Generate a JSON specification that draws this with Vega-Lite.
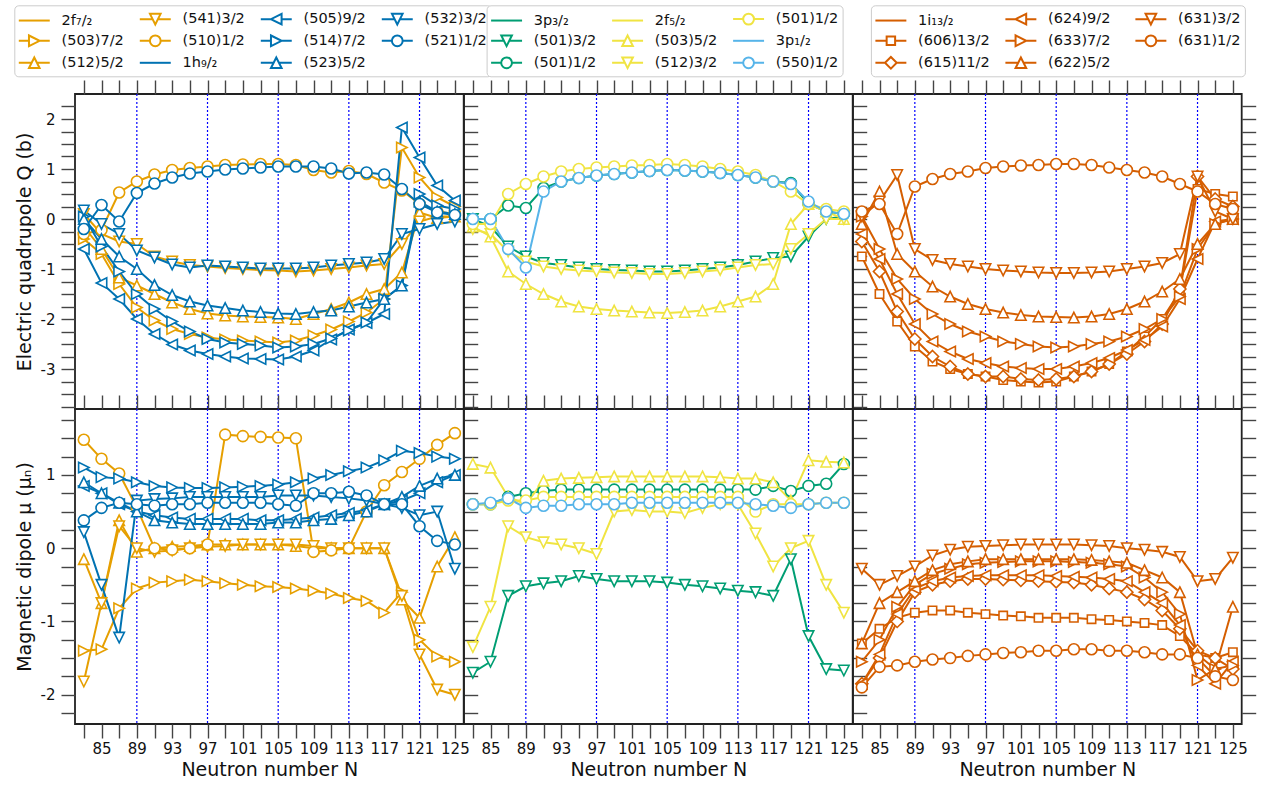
{
"$schema":"https://vega.github.io/schema/vega-lite/v6.json",
"background":"white",
"padding":{"left":12,"top":3,"right":5,"bottom":5},
"autosize":{"type":"pad"},
"config":{
 "view":{"stroke":"#222","strokeWidth":1.8},
 "axis":{"domain":false,"grid":false,"tickColor":"#444","tickWidth":1.4,"tickSize":14,"labelFont":"DejaVu Sans","labelFontSize":15,"labelColor":"#111","labelPadding":3,"titleFont":"DejaVu Sans","titleFontSize":19,"titleFontWeight":"normal","titleColor":"#111","labelFlush":false,"labelOverlap":false},
 "legend":{"labelFont":"DejaVu Sans","labelFontSize":14.5,"labelColor":"#111","symbolSize":324,"symbolStrokeWidth":2,"labelOffset":23.7,"columnPadding":11,"rowPadding":2,"padding":3.5,"strokeColor":"#cccccc","fillColor":"white","cornerRadius":4,"gridAlign":"all","labelLimit":300,"orient":"none"}
},
"datasets":{
"A":[
{"g":"2f7/2","s":"(503)7/2","N":83,"Q":-0.4,"mu":-1.4},{"g":"2f7/2","s":"(503)7/2","N":85,"Q":-0.7,"mu":-1.38},{"g":"2f7/2","s":"(503)7/2","N":87,"Q":-1.3,"mu":-0.82},{"g":"2f7/2","s":"(503)7/2","N":89,"Q":-1.77,"mu":-0.55},{"g":"2f7/2","s":"(503)7/2","N":91,"Q":-2.03,"mu":-0.47},{"g":"2f7/2","s":"(503)7/2","N":93,"Q":-2.2,"mu":-0.45},{"g":"2f7/2","s":"(503)7/2","N":95,"Q":-2.3,"mu":-0.43},{"g":"2f7/2","s":"(503)7/2","N":97,"Q":-2.37,"mu":-0.45},{"g":"2f7/2","s":"(503)7/2","N":99,"Q":-2.41,"mu":-0.48},{"g":"2f7/2","s":"(503)7/2","N":101,"Q":-2.43,"mu":-0.5},{"g":"2f7/2","s":"(503)7/2","N":103,"Q":-2.45,"mu":-0.52},{"g":"2f7/2","s":"(503)7/2","N":105,"Q":-2.47,"mu":-0.53},{"g":"2f7/2","s":"(503)7/2","N":107,"Q":-2.43,"mu":-0.55},{"g":"2f7/2","s":"(503)7/2","N":109,"Q":-2.33,"mu":-0.58},{"g":"2f7/2","s":"(503)7/2","N":111,"Q":-2.21,"mu":-0.62},{"g":"2f7/2","s":"(503)7/2","N":113,"Q":-2.05,"mu":-0.68},{"g":"2f7/2","s":"(503)7/2","N":115,"Q":-1.87,"mu":-0.72},{"g":"2f7/2","s":"(503)7/2","N":117,"Q":-1.6,"mu":-0.88},{"g":"2f7/2","s":"(503)7/2","N":119,"Q":1.43,"mu":-0.6},{"g":"2f7/2","s":"(503)7/2","N":121,"Q":0.83,"mu":-1.25},{"g":"2f7/2","s":"(503)7/2","N":123,"Q":0.43,"mu":-1.48},{"g":"2f7/2","s":"(503)7/2","N":125,"Q":0.25,"mu":-1.55},
{"g":"2f7/2","s":"(512)5/2","N":83,"Q":-0.15,"mu":-0.15},{"g":"2f7/2","s":"(512)5/2","N":85,"Q":-0.6,"mu":-0.75},{"g":"2f7/2","s":"(512)5/2","N":87,"Q":-1.17,"mu":0.38},{"g":"2f7/2","s":"(512)5/2","N":89,"Q":-1.33,"mu":-0.05},{"g":"2f7/2","s":"(512)5/2","N":91,"Q":-1.5,"mu":0.0},{"g":"2f7/2","s":"(512)5/2","N":93,"Q":-1.67,"mu":0.02},{"g":"2f7/2","s":"(512)5/2","N":95,"Q":-1.8,"mu":0.03},{"g":"2f7/2","s":"(512)5/2","N":97,"Q":-1.89,"mu":0.05},{"g":"2f7/2","s":"(512)5/2","N":99,"Q":-1.93,"mu":0.05},{"g":"2f7/2","s":"(512)5/2","N":101,"Q":-1.95,"mu":0.05},{"g":"2f7/2","s":"(512)5/2","N":103,"Q":-1.96,"mu":0.05},{"g":"2f7/2","s":"(512)5/2","N":105,"Q":-1.97,"mu":0.05},{"g":"2f7/2","s":"(512)5/2","N":107,"Q":-2.0,"mu":0.03},{"g":"2f7/2","s":"(512)5/2","N":109,"Q":-1.9,"mu":0.0},{"g":"2f7/2","s":"(512)5/2","N":111,"Q":-1.8,"mu":0.0},{"g":"2f7/2","s":"(512)5/2","N":113,"Q":-1.67,"mu":0.0},{"g":"2f7/2","s":"(512)5/2","N":115,"Q":-1.5,"mu":0.0},{"g":"2f7/2","s":"(512)5/2","N":117,"Q":-1.4,"mu":0.0},{"g":"2f7/2","s":"(512)5/2","N":119,"Q":-1.07,"mu":-0.7},{"g":"2f7/2","s":"(512)5/2","N":121,"Q":0.13,"mu":-0.95},{"g":"2f7/2","s":"(512)5/2","N":123,"Q":0.02,"mu":-0.25},{"g":"2f7/2","s":"(512)5/2","N":125,"Q":0.05,"mu":0.15},
{"g":"2f7/2","s":"(541)3/2","N":83,"Q":0.1,"mu":-1.82},{"g":"2f7/2","s":"(541)3/2","N":85,"Q":-0.3,"mu":-0.75},{"g":"2f7/2","s":"(541)3/2","N":87,"Q":-0.45,"mu":0.3},{"g":"2f7/2","s":"(541)3/2","N":89,"Q":-0.5,"mu":0.0},{"g":"2f7/2","s":"(541)3/2","N":91,"Q":-0.75,"mu":-0.05},{"g":"2f7/2","s":"(541)3/2","N":93,"Q":-0.85,"mu":-0.03},{"g":"2f7/2","s":"(541)3/2","N":95,"Q":-0.92,"mu":0.0},{"g":"2f7/2","s":"(541)3/2","N":97,"Q":-0.95,"mu":0.02},{"g":"2f7/2","s":"(541)3/2","N":99,"Q":-0.98,"mu":0.03},{"g":"2f7/2","s":"(541)3/2","N":101,"Q":-1.0,"mu":0.05},{"g":"2f7/2","s":"(541)3/2","N":103,"Q":-1.02,"mu":0.05},{"g":"2f7/2","s":"(541)3/2","N":105,"Q":-1.03,"mu":0.05},{"g":"2f7/2","s":"(541)3/2","N":107,"Q":-1.05,"mu":0.05},{"g":"2f7/2","s":"(541)3/2","N":109,"Q":-1.03,"mu":0.03},{"g":"2f7/2","s":"(541)3/2","N":111,"Q":-1.0,"mu":0.0},{"g":"2f7/2","s":"(541)3/2","N":113,"Q":-0.97,"mu":0.0},{"g":"2f7/2","s":"(541)3/2","N":115,"Q":-0.93,"mu":0.0},{"g":"2f7/2","s":"(541)3/2","N":117,"Q":-0.9,"mu":0.0},{"g":"2f7/2","s":"(541)3/2","N":119,"Q":-0.5,"mu":-0.65},{"g":"2f7/2","s":"(541)3/2","N":121,"Q":-0.05,"mu":-1.45},{"g":"2f7/2","s":"(541)3/2","N":123,"Q":0.05,"mu":-1.93},{"g":"2f7/2","s":"(541)3/2","N":125,"Q":0.05,"mu":-2.0},
{"g":"2f7/2","s":"(510)1/2","N":83,"Q":-0.3,"mu":1.48},{"g":"2f7/2","s":"(510)1/2","N":85,"Q":-0.22,"mu":1.22},{"g":"2f7/2","s":"(510)1/2","N":87,"Q":0.53,"mu":1.02},{"g":"2f7/2","s":"(510)1/2","N":89,"Q":0.75,"mu":0.55},{"g":"2f7/2","s":"(510)1/2","N":91,"Q":0.89,"mu":0.0},{"g":"2f7/2","s":"(510)1/2","N":93,"Q":0.98,"mu":-0.02},{"g":"2f7/2","s":"(510)1/2","N":95,"Q":1.02,"mu":0.0},{"g":"2f7/2","s":"(510)1/2","N":97,"Q":1.05,"mu":0.05},{"g":"2f7/2","s":"(510)1/2","N":99,"Q":1.08,"mu":1.55},{"g":"2f7/2","s":"(510)1/2","N":101,"Q":1.09,"mu":1.53},{"g":"2f7/2","s":"(510)1/2","N":103,"Q":1.1,"mu":1.52},{"g":"2f7/2","s":"(510)1/2","N":105,"Q":1.1,"mu":1.51},{"g":"2f7/2","s":"(510)1/2","N":107,"Q":1.08,"mu":1.5},{"g":"2f7/2","s":"(510)1/2","N":109,"Q":0.98,"mu":-0.05},{"g":"2f7/2","s":"(510)1/2","N":111,"Q":0.93,"mu":-0.03},{"g":"2f7/2","s":"(510)1/2","N":113,"Q":0.96,"mu":0.0},{"g":"2f7/2","s":"(510)1/2","N":115,"Q":0.9,"mu":0.5},{"g":"2f7/2","s":"(510)1/2","N":117,"Q":0.73,"mu":0.86},{"g":"2f7/2","s":"(510)1/2","N":119,"Q":0.57,"mu":1.04},{"g":"2f7/2","s":"(510)1/2","N":121,"Q":0.3,"mu":1.22},{"g":"2f7/2","s":"(510)1/2","N":123,"Q":0.15,"mu":1.41},{"g":"2f7/2","s":"(510)1/2","N":125,"Q":0.1,"mu":1.57},
{"g":"1h9/2","s":"(505)9/2","N":83,"Q":-0.6,"mu":0.85},{"g":"1h9/2","s":"(505)9/2","N":85,"Q":-1.28,"mu":0.75},{"g":"1h9/2","s":"(505)9/2","N":87,"Q":-1.6,"mu":0.6},{"g":"1h9/2","s":"(505)9/2","N":89,"Q":-2.0,"mu":0.5},{"g":"1h9/2","s":"(505)9/2","N":91,"Q":-2.3,"mu":0.45},{"g":"1h9/2","s":"(505)9/2","N":93,"Q":-2.51,"mu":0.42},{"g":"1h9/2","s":"(505)9/2","N":95,"Q":-2.63,"mu":0.4},{"g":"1h9/2","s":"(505)9/2","N":97,"Q":-2.7,"mu":0.4},{"g":"1h9/2","s":"(505)9/2","N":99,"Q":-2.75,"mu":0.4},{"g":"1h9/2","s":"(505)9/2","N":101,"Q":-2.79,"mu":0.4},{"g":"1h9/2","s":"(505)9/2","N":103,"Q":-2.8,"mu":0.38},{"g":"1h9/2","s":"(505)9/2","N":105,"Q":-2.81,"mu":0.38},{"g":"1h9/2","s":"(505)9/2","N":107,"Q":-2.75,"mu":0.4},{"g":"1h9/2","s":"(505)9/2","N":109,"Q":-2.63,"mu":0.42},{"g":"1h9/2","s":"(505)9/2","N":111,"Q":-2.41,"mu":0.45},{"g":"1h9/2","s":"(505)9/2","N":113,"Q":-2.21,"mu":0.48},{"g":"1h9/2","s":"(505)9/2","N":115,"Q":-2.08,"mu":0.52},{"g":"1h9/2","s":"(505)9/2","N":117,"Q":-1.9,"mu":0.6},{"g":"1h9/2","s":"(505)9/2","N":119,"Q":1.83,"mu":0.65},{"g":"1h9/2","s":"(505)9/2","N":121,"Q":1.23,"mu":0.75},{"g":"1h9/2","s":"(505)9/2","N":123,"Q":0.67,"mu":0.9},{"g":"1h9/2","s":"(505)9/2","N":125,"Q":0.37,"mu":1.0},
{"g":"1h9/2","s":"(514)7/2","N":83,"Q":0.05,"mu":1.1},{"g":"1h9/2","s":"(514)7/2","N":85,"Q":-0.55,"mu":0.97},{"g":"1h9/2","s":"(514)7/2","N":87,"Q":-1.05,"mu":0.95},{"g":"1h9/2","s":"(514)7/2","N":89,"Q":-1.5,"mu":0.9},{"g":"1h9/2","s":"(514)7/2","N":91,"Q":-1.8,"mu":0.85},{"g":"1h9/2","s":"(514)7/2","N":93,"Q":-2.05,"mu":0.83},{"g":"1h9/2","s":"(514)7/2","N":95,"Q":-2.25,"mu":0.82},{"g":"1h9/2","s":"(514)7/2","N":97,"Q":-2.4,"mu":0.82},{"g":"1h9/2","s":"(514)7/2","N":99,"Q":-2.47,"mu":0.83},{"g":"1h9/2","s":"(514)7/2","N":101,"Q":-2.5,"mu":0.84},{"g":"1h9/2","s":"(514)7/2","N":103,"Q":-2.53,"mu":0.85},{"g":"1h9/2","s":"(514)7/2","N":105,"Q":-2.57,"mu":0.87},{"g":"1h9/2","s":"(514)7/2","N":107,"Q":-2.55,"mu":0.9},{"g":"1h9/2","s":"(514)7/2","N":109,"Q":-2.5,"mu":0.95},{"g":"1h9/2","s":"(514)7/2","N":111,"Q":-2.39,"mu":1.0},{"g":"1h9/2","s":"(514)7/2","N":113,"Q":-2.23,"mu":1.05},{"g":"1h9/2","s":"(514)7/2","N":115,"Q":-2.07,"mu":1.1},{"g":"1h9/2","s":"(514)7/2","N":117,"Q":-1.6,"mu":1.2},{"g":"1h9/2","s":"(514)7/2","N":119,"Q":-1.33,"mu":1.33},{"g":"1h9/2","s":"(514)7/2","N":121,"Q":0.5,"mu":1.3},{"g":"1h9/2","s":"(514)7/2","N":123,"Q":0.27,"mu":1.25},{"g":"1h9/2","s":"(514)7/2","N":125,"Q":0.2,"mu":1.22},
{"g":"1h9/2","s":"(523)5/2","N":83,"Q":0.0,"mu":0.9},{"g":"1h9/2","s":"(523)5/2","N":85,"Q":-0.4,"mu":0.75},{"g":"1h9/2","s":"(523)5/2","N":87,"Q":-0.75,"mu":0.62},{"g":"1h9/2","s":"(523)5/2","N":89,"Q":-1.0,"mu":0.5},{"g":"1h9/2","s":"(523)5/2","N":91,"Q":-1.32,"mu":0.38},{"g":"1h9/2","s":"(523)5/2","N":93,"Q":-1.52,"mu":0.35},{"g":"1h9/2","s":"(523)5/2","N":95,"Q":-1.65,"mu":0.33},{"g":"1h9/2","s":"(523)5/2","N":97,"Q":-1.73,"mu":0.33},{"g":"1h9/2","s":"(523)5/2","N":99,"Q":-1.78,"mu":0.33},{"g":"1h9/2","s":"(523)5/2","N":101,"Q":-1.83,"mu":0.33},{"g":"1h9/2","s":"(523)5/2","N":103,"Q":-1.86,"mu":0.33},{"g":"1h9/2","s":"(523)5/2","N":105,"Q":-1.89,"mu":0.35},{"g":"1h9/2","s":"(523)5/2","N":107,"Q":-1.9,"mu":0.35},{"g":"1h9/2","s":"(523)5/2","N":109,"Q":-1.86,"mu":0.38},{"g":"1h9/2","s":"(523)5/2","N":111,"Q":-1.83,"mu":0.4},{"g":"1h9/2","s":"(523)5/2","N":113,"Q":-1.75,"mu":0.45},{"g":"1h9/2","s":"(523)5/2","N":115,"Q":-1.67,"mu":0.5},{"g":"1h9/2","s":"(523)5/2","N":117,"Q":-1.6,"mu":0.6},{"g":"1h9/2","s":"(523)5/2","N":119,"Q":-1.33,"mu":0.7},{"g":"1h9/2","s":"(523)5/2","N":121,"Q":0.35,"mu":0.85},{"g":"1h9/2","s":"(523)5/2","N":123,"Q":0.15,"mu":0.95},{"g":"1h9/2","s":"(523)5/2","N":125,"Q":0.1,"mu":1.0},
{"g":"1h9/2","s":"(532)3/2","N":83,"Q":0.17,"mu":0.22},{"g":"1h9/2","s":"(532)3/2","N":85,"Q":-0.1,"mu":-0.5},{"g":"1h9/2","s":"(532)3/2","N":87,"Q":-0.3,"mu":-1.22},{"g":"1h9/2","s":"(532)3/2","N":89,"Q":-0.63,"mu":0.65},{"g":"1h9/2","s":"(532)3/2","N":91,"Q":-0.77,"mu":0.67},{"g":"1h9/2","s":"(532)3/2","N":93,"Q":-0.91,"mu":0.68},{"g":"1h9/2","s":"(532)3/2","N":95,"Q":-0.97,"mu":0.7},{"g":"1h9/2","s":"(532)3/2","N":97,"Q":-0.93,"mu":0.7},{"g":"1h9/2","s":"(532)3/2","N":99,"Q":-0.95,"mu":0.7},{"g":"1h9/2","s":"(532)3/2","N":101,"Q":-0.97,"mu":0.7},{"g":"1h9/2","s":"(532)3/2","N":103,"Q":-0.99,"mu":0.7},{"g":"1h9/2","s":"(532)3/2","N":105,"Q":-0.99,"mu":0.72},{"g":"1h9/2","s":"(532)3/2","N":107,"Q":-0.99,"mu":0.72},{"g":"1h9/2","s":"(532)3/2","N":109,"Q":-0.97,"mu":0.72},{"g":"1h9/2","s":"(532)3/2","N":111,"Q":-0.93,"mu":0.7},{"g":"1h9/2","s":"(532)3/2","N":113,"Q":-0.9,"mu":0.68},{"g":"1h9/2","s":"(532)3/2","N":115,"Q":-0.87,"mu":0.65},{"g":"1h9/2","s":"(532)3/2","N":117,"Q":-0.8,"mu":0.6},{"g":"1h9/2","s":"(532)3/2","N":119,"Q":-0.3,"mu":0.55},{"g":"1h9/2","s":"(532)3/2","N":121,"Q":-0.2,"mu":0.45},{"g":"1h9/2","s":"(532)3/2","N":123,"Q":-0.1,"mu":0.5},{"g":"1h9/2","s":"(532)3/2","N":125,"Q":-0.05,"mu":-0.28},
{"g":"1h9/2","s":"(521)1/2","N":83,"Q":-0.2,"mu":0.38},{"g":"1h9/2","s":"(521)1/2","N":85,"Q":0.28,"mu":0.55},{"g":"1h9/2","s":"(521)1/2","N":87,"Q":-0.05,"mu":0.62},{"g":"1h9/2","s":"(521)1/2","N":89,"Q":0.52,"mu":0.6},{"g":"1h9/2","s":"(521)1/2","N":91,"Q":0.71,"mu":0.58},{"g":"1h9/2","s":"(521)1/2","N":93,"Q":0.83,"mu":0.6},{"g":"1h9/2","s":"(521)1/2","N":95,"Q":0.91,"mu":0.6},{"g":"1h9/2","s":"(521)1/2","N":97,"Q":0.95,"mu":0.62},{"g":"1h9/2","s":"(521)1/2","N":99,"Q":0.99,"mu":0.62},{"g":"1h9/2","s":"(521)1/2","N":101,"Q":1.01,"mu":0.62},{"g":"1h9/2","s":"(521)1/2","N":103,"Q":1.03,"mu":0.62},{"g":"1h9/2","s":"(521)1/2","N":105,"Q":1.05,"mu":0.6},{"g":"1h9/2","s":"(521)1/2","N":107,"Q":1.05,"mu":0.58},{"g":"1h9/2","s":"(521)1/2","N":109,"Q":1.05,"mu":0.75},{"g":"1h9/2","s":"(521)1/2","N":111,"Q":1.01,"mu":0.75},{"g":"1h9/2","s":"(521)1/2","N":113,"Q":0.91,"mu":0.77},{"g":"1h9/2","s":"(521)1/2","N":115,"Q":0.93,"mu":0.72},{"g":"1h9/2","s":"(521)1/2","N":117,"Q":0.89,"mu":0.6},{"g":"1h9/2","s":"(521)1/2","N":119,"Q":0.6,"mu":0.6},{"g":"1h9/2","s":"(521)1/2","N":121,"Q":0.3,"mu":0.3},{"g":"1h9/2","s":"(521)1/2","N":123,"Q":0.13,"mu":0.1},{"g":"1h9/2","s":"(521)1/2","N":125,"Q":0.08,"mu":0.05}
],
"B":[
{"g":"3p3/2","s":"(501)3/2","N":83,"Q":0.0,"mu":-1.7},{"g":"3p3/2","s":"(501)3/2","N":85,"Q":-0.15,"mu":-1.55},{"g":"3p3/2","s":"(501)3/2","N":87,"Q":-0.55,"mu":-0.65},{"g":"3p3/2","s":"(501)3/2","N":89,"Q":-0.75,"mu":-0.52},{"g":"3p3/2","s":"(501)3/2","N":91,"Q":-0.88,"mu":-0.48},{"g":"3p3/2","s":"(501)3/2","N":93,"Q":-0.92,"mu":-0.45},{"g":"3p3/2","s":"(501)3/2","N":95,"Q":-0.97,"mu":-0.38},{"g":"3p3/2","s":"(501)3/2","N":97,"Q":-1.0,"mu":-0.42},{"g":"3p3/2","s":"(501)3/2","N":99,"Q":-1.02,"mu":-0.45},{"g":"3p3/2","s":"(501)3/2","N":101,"Q":-1.03,"mu":-0.45},{"g":"3p3/2","s":"(501)3/2","N":103,"Q":-1.05,"mu":-0.45},{"g":"3p3/2","s":"(501)3/2","N":105,"Q":-1.05,"mu":-0.47},{"g":"3p3/2","s":"(501)3/2","N":107,"Q":-1.03,"mu":-0.5},{"g":"3p3/2","s":"(501)3/2","N":109,"Q":-1.0,"mu":-0.52},{"g":"3p3/2","s":"(501)3/2","N":111,"Q":-0.97,"mu":-0.55},{"g":"3p3/2","s":"(501)3/2","N":113,"Q":-0.92,"mu":-0.58},{"g":"3p3/2","s":"(501)3/2","N":115,"Q":-0.85,"mu":-0.6},{"g":"3p3/2","s":"(501)3/2","N":117,"Q":-0.78,"mu":-0.65},{"g":"3p3/2","s":"(501)3/2","N":119,"Q":-0.75,"mu":-0.15},{"g":"3p3/2","s":"(501)3/2","N":121,"Q":-0.35,"mu":-1.2},{"g":"3p3/2","s":"(501)3/2","N":123,"Q":0.0,"mu":-1.65},{"g":"3p3/2","s":"(501)3/2","N":125,"Q":0.05,"mu":-1.67},
{"g":"3p3/2","s":"(501)1/2","N":83,"Q":0.0,"mu":0.6},{"g":"3p3/2","s":"(501)1/2","N":85,"Q":0.0,"mu":0.6},{"g":"3p3/2","s":"(501)1/2","N":87,"Q":0.27,"mu":0.7},{"g":"3p3/2","s":"(501)1/2","N":89,"Q":0.22,"mu":0.75},{"g":"3p3/2","s":"(501)1/2","N":91,"Q":0.62,"mu":0.78},{"g":"3p3/2","s":"(501)1/2","N":93,"Q":0.75,"mu":0.8},{"g":"3p3/2","s":"(501)1/2","N":95,"Q":0.82,"mu":0.8},{"g":"3p3/2","s":"(501)1/2","N":97,"Q":0.87,"mu":0.8},{"g":"3p3/2","s":"(501)1/2","N":99,"Q":0.9,"mu":0.8},{"g":"3p3/2","s":"(501)1/2","N":101,"Q":0.93,"mu":0.8},{"g":"3p3/2","s":"(501)1/2","N":103,"Q":0.96,"mu":0.8},{"g":"3p3/2","s":"(501)1/2","N":105,"Q":0.98,"mu":0.8},{"g":"3p3/2","s":"(501)1/2","N":107,"Q":0.97,"mu":0.8},{"g":"3p3/2","s":"(501)1/2","N":109,"Q":0.95,"mu":0.8},{"g":"3p3/2","s":"(501)1/2","N":111,"Q":0.92,"mu":0.8},{"g":"3p3/2","s":"(501)1/2","N":113,"Q":0.88,"mu":0.8},{"g":"3p3/2","s":"(501)1/2","N":115,"Q":0.83,"mu":0.8},{"g":"3p3/2","s":"(501)1/2","N":117,"Q":0.75,"mu":0.85},{"g":"3p3/2","s":"(501)1/2","N":119,"Q":0.72,"mu":0.78},{"g":"3p3/2","s":"(501)1/2","N":121,"Q":0.3,"mu":0.85},{"g":"3p3/2","s":"(501)1/2","N":123,"Q":0.15,"mu":0.88},{"g":"3p3/2","s":"(501)1/2","N":125,"Q":0.1,"mu":1.15},
{"g":"2f5/2","s":"(503)5/2","N":83,"Q":-0.15,"mu":1.15},{"g":"2f5/2","s":"(503)5/2","N":85,"Q":-0.35,"mu":1.1},{"g":"2f5/2","s":"(503)5/2","N":87,"Q":-1.05,"mu":0.7},{"g":"2f5/2","s":"(503)5/2","N":89,"Q":-1.3,"mu":0.6},{"g":"2f5/2","s":"(503)5/2","N":91,"Q":-1.5,"mu":0.92},{"g":"2f5/2","s":"(503)5/2","N":93,"Q":-1.65,"mu":0.95},{"g":"2f5/2","s":"(503)5/2","N":95,"Q":-1.75,"mu":0.96},{"g":"2f5/2","s":"(503)5/2","N":97,"Q":-1.8,"mu":0.97},{"g":"2f5/2","s":"(503)5/2","N":99,"Q":-1.83,"mu":0.98},{"g":"2f5/2","s":"(503)5/2","N":101,"Q":-1.85,"mu":0.98},{"g":"2f5/2","s":"(503)5/2","N":103,"Q":-1.87,"mu":0.98},{"g":"2f5/2","s":"(503)5/2","N":105,"Q":-1.88,"mu":0.98},{"g":"2f5/2","s":"(503)5/2","N":107,"Q":-1.86,"mu":0.98},{"g":"2f5/2","s":"(503)5/2","N":109,"Q":-1.83,"mu":0.98},{"g":"2f5/2","s":"(503)5/2","N":111,"Q":-1.75,"mu":0.97},{"g":"2f5/2","s":"(503)5/2","N":113,"Q":-1.65,"mu":0.95},{"g":"2f5/2","s":"(503)5/2","N":115,"Q":-1.55,"mu":0.95},{"g":"2f5/2","s":"(503)5/2","N":117,"Q":-1.3,"mu":0.9},{"g":"2f5/2","s":"(503)5/2","N":119,"Q":-0.1,"mu":0.65},{"g":"2f5/2","s":"(503)5/2","N":121,"Q":0.3,"mu":1.2},{"g":"2f5/2","s":"(503)5/2","N":123,"Q":0.15,"mu":1.18},{"g":"2f5/2","s":"(503)5/2","N":125,"Q":0.0,"mu":1.17},
{"g":"2f5/2","s":"(512)3/2","N":83,"Q":-0.2,"mu":-1.35},{"g":"2f5/2","s":"(512)3/2","N":85,"Q":-0.3,"mu":-0.8},{"g":"2f5/2","s":"(512)3/2","N":87,"Q":-0.65,"mu":0.3},{"g":"2f5/2","s":"(512)3/2","N":89,"Q":-0.85,"mu":0.15},{"g":"2f5/2","s":"(512)3/2","N":91,"Q":-0.95,"mu":0.08},{"g":"2f5/2","s":"(512)3/2","N":93,"Q":-1.0,"mu":0.05},{"g":"2f5/2","s":"(512)3/2","N":95,"Q":-1.03,"mu":0.0},{"g":"2f5/2","s":"(512)3/2","N":97,"Q":-1.05,"mu":-0.08},{"g":"2f5/2","s":"(512)3/2","N":99,"Q":-1.07,"mu":0.5},{"g":"2f5/2","s":"(512)3/2","N":101,"Q":-1.08,"mu":0.52},{"g":"2f5/2","s":"(512)3/2","N":103,"Q":-1.1,"mu":0.5},{"g":"2f5/2","s":"(512)3/2","N":105,"Q":-1.1,"mu":0.5},{"g":"2f5/2","s":"(512)3/2","N":107,"Q":-1.08,"mu":0.48},{"g":"2f5/2","s":"(512)3/2","N":109,"Q":-1.05,"mu":0.55},{"g":"2f5/2","s":"(512)3/2","N":111,"Q":-1.02,"mu":0.6},{"g":"2f5/2","s":"(512)3/2","N":113,"Q":-0.97,"mu":0.6},{"g":"2f5/2","s":"(512)3/2","N":115,"Q":-0.92,"mu":0.2},{"g":"2f5/2","s":"(512)3/2","N":117,"Q":-0.9,"mu":-0.25},{"g":"2f5/2","s":"(512)3/2","N":119,"Q":-0.6,"mu":0.0},{"g":"2f5/2","s":"(512)3/2","N":121,"Q":-0.3,"mu":0.1},{"g":"2f5/2","s":"(512)3/2","N":123,"Q":0.0,"mu":-0.5},{"g":"2f5/2","s":"(512)3/2","N":125,"Q":0.0,"mu":-0.88},
{"g":"2f5/2","s":"(501)1/2","N":83,"Q":-0.1,"mu":0.6},{"g":"2f5/2","s":"(501)1/2","N":85,"Q":-0.1,"mu":0.6},{"g":"2f5/2","s":"(501)1/2","N":87,"Q":0.5,"mu":0.65},{"g":"2f5/2","s":"(501)1/2","N":89,"Q":0.7,"mu":0.65},{"g":"2f5/2","s":"(501)1/2","N":91,"Q":0.85,"mu":0.7},{"g":"2f5/2","s":"(501)1/2","N":93,"Q":0.95,"mu":0.7},{"g":"2f5/2","s":"(501)1/2","N":95,"Q":1.0,"mu":0.7},{"g":"2f5/2","s":"(501)1/2","N":97,"Q":1.03,"mu":0.7},{"g":"2f5/2","s":"(501)1/2","N":99,"Q":1.05,"mu":0.7},{"g":"2f5/2","s":"(501)1/2","N":101,"Q":1.07,"mu":0.7},{"g":"2f5/2","s":"(501)1/2","N":103,"Q":1.08,"mu":0.7},{"g":"2f5/2","s":"(501)1/2","N":105,"Q":1.1,"mu":0.7},{"g":"2f5/2","s":"(501)1/2","N":107,"Q":1.08,"mu":0.7},{"g":"2f5/2","s":"(501)1/2","N":109,"Q":1.05,"mu":0.7},{"g":"2f5/2","s":"(501)1/2","N":111,"Q":1.0,"mu":0.7},{"g":"2f5/2","s":"(501)1/2","N":113,"Q":0.95,"mu":0.7},{"g":"2f5/2","s":"(501)1/2","N":115,"Q":0.88,"mu":0.5},{"g":"2f5/2","s":"(501)1/2","N":117,"Q":0.75,"mu":0.6},{"g":"2f5/2","s":"(501)1/2","N":119,"Q":0.55,"mu":0.6},{"g":"2f5/2","s":"(501)1/2","N":121,"Q":0.3,"mu":0.6},{"g":"2f5/2","s":"(501)1/2","N":123,"Q":0.2,"mu":0.62},{"g":"2f5/2","s":"(501)1/2","N":125,"Q":0.15,"mu":0.62},
{"g":"3p1/2","s":"(550)1/2","N":83,"Q":0.0,"mu":0.6},{"g":"3p1/2","s":"(550)1/2","N":85,"Q":0.0,"mu":0.62},{"g":"3p1/2","s":"(550)1/2","N":87,"Q":-0.6,"mu":0.68},{"g":"3p1/2","s":"(550)1/2","N":89,"Q":-0.97,"mu":0.55},{"g":"3p1/2","s":"(550)1/2","N":91,"Q":0.55,"mu":0.58},{"g":"3p1/2","s":"(550)1/2","N":93,"Q":0.75,"mu":0.58},{"g":"3p1/2","s":"(550)1/2","N":95,"Q":0.82,"mu":0.6},{"g":"3p1/2","s":"(550)1/2","N":97,"Q":0.87,"mu":0.6},{"g":"3p1/2","s":"(550)1/2","N":99,"Q":0.9,"mu":0.6},{"g":"3p1/2","s":"(550)1/2","N":101,"Q":0.93,"mu":0.62},{"g":"3p1/2","s":"(550)1/2","N":103,"Q":0.96,"mu":0.62},{"g":"3p1/2","s":"(550)1/2","N":105,"Q":0.98,"mu":0.62},{"g":"3p1/2","s":"(550)1/2","N":107,"Q":0.97,"mu":0.62},{"g":"3p1/2","s":"(550)1/2","N":109,"Q":0.95,"mu":0.62},{"g":"3p1/2","s":"(550)1/2","N":111,"Q":0.92,"mu":0.62},{"g":"3p1/2","s":"(550)1/2","N":113,"Q":0.88,"mu":0.62},{"g":"3p1/2","s":"(550)1/2","N":115,"Q":0.83,"mu":0.6},{"g":"3p1/2","s":"(550)1/2","N":117,"Q":0.75,"mu":0.58},{"g":"3p1/2","s":"(550)1/2","N":119,"Q":0.7,"mu":0.55},{"g":"3p1/2","s":"(550)1/2","N":121,"Q":0.35,"mu":0.6},{"g":"3p1/2","s":"(550)1/2","N":123,"Q":0.15,"mu":0.62},{"g":"3p1/2","s":"(550)1/2","N":125,"Q":0.1,"mu":0.62}
],
"C":[
{"g":"1i13/2","s":"(606)13/2","N":83,"Q":-0.75,"mu":-1.3},{"g":"1i13/2","s":"(606)13/2","N":85,"Q":-1.5,"mu":-1.1},{"g":"1i13/2","s":"(606)13/2","N":87,"Q":-2.05,"mu":-0.95},{"g":"1i13/2","s":"(606)13/2","N":89,"Q":-2.55,"mu":-0.88},{"g":"1i13/2","s":"(606)13/2","N":91,"Q":-2.85,"mu":-0.85},{"g":"1i13/2","s":"(606)13/2","N":93,"Q":-3.0,"mu":-0.85},{"g":"1i13/2","s":"(606)13/2","N":95,"Q":-3.1,"mu":-0.88},{"g":"1i13/2","s":"(606)13/2","N":97,"Q":-3.15,"mu":-0.9},{"g":"1i13/2","s":"(606)13/2","N":99,"Q":-3.22,"mu":-0.92},{"g":"1i13/2","s":"(606)13/2","N":101,"Q":-3.25,"mu":-0.93},{"g":"1i13/2","s":"(606)13/2","N":103,"Q":-3.27,"mu":-0.95},{"g":"1i13/2","s":"(606)13/2","N":105,"Q":-3.25,"mu":-0.95},{"g":"1i13/2","s":"(606)13/2","N":107,"Q":-3.15,"mu":-0.95},{"g":"1i13/2","s":"(606)13/2","N":109,"Q":-3.05,"mu":-0.97},{"g":"1i13/2","s":"(606)13/2","N":111,"Q":-2.9,"mu":-0.98},{"g":"1i13/2","s":"(606)13/2","N":113,"Q":-2.65,"mu":-1.0},{"g":"1i13/2","s":"(606)13/2","N":115,"Q":-2.35,"mu":-1.02},{"g":"1i13/2","s":"(606)13/2","N":117,"Q":-2.0,"mu":-1.05},{"g":"1i13/2","s":"(606)13/2","N":119,"Q":-1.45,"mu":-1.2},{"g":"1i13/2","s":"(606)13/2","N":121,"Q":0.6,"mu":-1.45},{"g":"1i13/2","s":"(606)13/2","N":123,"Q":0.5,"mu":-1.5},{"g":"1i13/2","s":"(606)13/2","N":125,"Q":0.45,"mu":-1.42},
{"g":"1i13/2","s":"(615)11/2","N":83,"Q":-0.45,"mu":-1.85},{"g":"1i13/2","s":"(615)11/2","N":85,"Q":-1.05,"mu":-1.5},{"g":"1i13/2","s":"(615)11/2","N":87,"Q":-1.85,"mu":-1.0},{"g":"1i13/2","s":"(615)11/2","N":89,"Q":-2.4,"mu":-0.6},{"g":"1i13/2","s":"(615)11/2","N":91,"Q":-2.75,"mu":-0.5},{"g":"1i13/2","s":"(615)11/2","N":93,"Q":-2.95,"mu":-0.45},{"g":"1i13/2","s":"(615)11/2","N":95,"Q":-3.1,"mu":-0.42},{"g":"1i13/2","s":"(615)11/2","N":97,"Q":-3.15,"mu":-0.42},{"g":"1i13/2","s":"(615)11/2","N":99,"Q":-3.15,"mu":-0.43},{"g":"1i13/2","s":"(615)11/2","N":101,"Q":-3.2,"mu":-0.44},{"g":"1i13/2","s":"(615)11/2","N":103,"Q":-3.22,"mu":-0.45},{"g":"1i13/2","s":"(615)11/2","N":105,"Q":-3.2,"mu":-0.46},{"g":"1i13/2","s":"(615)11/2","N":107,"Q":-3.15,"mu":-0.47},{"g":"1i13/2","s":"(615)11/2","N":109,"Q":-3.05,"mu":-0.5},{"g":"1i13/2","s":"(615)11/2","N":111,"Q":-2.9,"mu":-0.55},{"g":"1i13/2","s":"(615)11/2","N":113,"Q":-2.7,"mu":-0.6},{"g":"1i13/2","s":"(615)11/2","N":115,"Q":-2.45,"mu":-0.7},{"g":"1i13/2","s":"(615)11/2","N":117,"Q":-2.1,"mu":-0.85},{"g":"1i13/2","s":"(615)11/2","N":119,"Q":-1.4,"mu":-1.1},{"g":"1i13/2","s":"(615)11/2","N":121,"Q":0.85,"mu":-1.4},{"g":"1i13/2","s":"(615)11/2","N":123,"Q":0.4,"mu":-1.5},{"g":"1i13/2","s":"(615)11/2","N":125,"Q":0.25,"mu":-1.65},
{"g":"1i13/2","s":"(624)9/2","N":83,"Q":-0.3,"mu":-1.85},{"g":"1i13/2","s":"(624)9/2","N":85,"Q":-0.8,"mu":-1.45},{"g":"1i13/2","s":"(624)9/2","N":87,"Q":-1.5,"mu":-0.9},{"g":"1i13/2","s":"(624)9/2","N":89,"Q":-2.1,"mu":-0.55},{"g":"1i13/2","s":"(624)9/2","N":91,"Q":-2.45,"mu":-0.45},{"g":"1i13/2","s":"(624)9/2","N":93,"Q":-2.65,"mu":-0.4},{"g":"1i13/2","s":"(624)9/2","N":95,"Q":-2.8,"mu":-0.38},{"g":"1i13/2","s":"(624)9/2","N":97,"Q":-2.88,"mu":-0.37},{"g":"1i13/2","s":"(624)9/2","N":99,"Q":-2.95,"mu":-0.37},{"g":"1i13/2","s":"(624)9/2","N":101,"Q":-2.98,"mu":-0.37},{"g":"1i13/2","s":"(624)9/2","N":103,"Q":-3.0,"mu":-0.37},{"g":"1i13/2","s":"(624)9/2","N":105,"Q":-3.0,"mu":-0.38},{"g":"1i13/2","s":"(624)9/2","N":107,"Q":-2.95,"mu":-0.39},{"g":"1i13/2","s":"(624)9/2","N":109,"Q":-2.88,"mu":-0.4},{"g":"1i13/2","s":"(624)9/2","N":111,"Q":-2.78,"mu":-0.42},{"g":"1i13/2","s":"(624)9/2","N":113,"Q":-2.62,"mu":-0.45},{"g":"1i13/2","s":"(624)9/2","N":115,"Q":-2.42,"mu":-0.6},{"g":"1i13/2","s":"(624)9/2","N":117,"Q":-2.15,"mu":-0.75},{"g":"1i13/2","s":"(624)9/2","N":119,"Q":-1.6,"mu":-1.05},{"g":"1i13/2","s":"(624)9/2","N":121,"Q":-0.8,"mu":-1.6},{"g":"1i13/2","s":"(624)9/2","N":123,"Q":-0.05,"mu":-1.85},{"g":"1i13/2","s":"(624)9/2","N":125,"Q":0.0,"mu":-1.55},
{"g":"1i13/2","s":"(633)7/2","N":83,"Q":0.05,"mu":-1.55},{"g":"1i13/2","s":"(633)7/2","N":85,"Q":-0.6,"mu":-1.25},{"g":"1i13/2","s":"(633)7/2","N":87,"Q":-1.2,"mu":-0.8},{"g":"1i13/2","s":"(633)7/2","N":89,"Q":-1.6,"mu":-0.5},{"g":"1i13/2","s":"(633)7/2","N":91,"Q":-1.9,"mu":-0.35},{"g":"1i13/2","s":"(633)7/2","N":93,"Q":-2.1,"mu":-0.28},{"g":"1i13/2","s":"(633)7/2","N":95,"Q":-2.25,"mu":-0.22},{"g":"1i13/2","s":"(633)7/2","N":97,"Q":-2.35,"mu":-0.2},{"g":"1i13/2","s":"(633)7/2","N":99,"Q":-2.45,"mu":-0.19},{"g":"1i13/2","s":"(633)7/2","N":101,"Q":-2.5,"mu":-0.18},{"g":"1i13/2","s":"(633)7/2","N":103,"Q":-2.55,"mu":-0.18},{"g":"1i13/2","s":"(633)7/2","N":105,"Q":-2.57,"mu":-0.18},{"g":"1i13/2","s":"(633)7/2","N":107,"Q":-2.55,"mu":-0.19},{"g":"1i13/2","s":"(633)7/2","N":109,"Q":-2.5,"mu":-0.2},{"g":"1i13/2","s":"(633)7/2","N":111,"Q":-2.45,"mu":-0.22},{"g":"1i13/2","s":"(633)7/2","N":113,"Q":-2.35,"mu":-0.25},{"g":"1i13/2","s":"(633)7/2","N":115,"Q":-2.2,"mu":-0.4},{"g":"1i13/2","s":"(633)7/2","N":117,"Q":-2.0,"mu":-0.6},{"g":"1i13/2","s":"(633)7/2","N":119,"Q":-1.55,"mu":-0.9},{"g":"1i13/2","s":"(633)7/2","N":121,"Q":-0.6,"mu":-1.8},{"g":"1i13/2","s":"(633)7/2","N":123,"Q":-0.1,"mu":-1.65},{"g":"1i13/2","s":"(633)7/2","N":125,"Q":0.0,"mu":-1.6},
{"g":"1i13/2","s":"(622)5/2","N":83,"Q":-0.1,"mu":-1.3},{"g":"1i13/2","s":"(622)5/2","N":85,"Q":0.55,"mu":-0.75},{"g":"1i13/2","s":"(622)5/2","N":87,"Q":-0.7,"mu":-0.6},{"g":"1i13/2","s":"(622)5/2","N":89,"Q":-1.05,"mu":-0.45},{"g":"1i13/2","s":"(622)5/2","N":91,"Q":-1.35,"mu":-0.3},{"g":"1i13/2","s":"(622)5/2","N":93,"Q":-1.55,"mu":-0.22},{"g":"1i13/2","s":"(622)5/2","N":95,"Q":-1.7,"mu":-0.18},{"g":"1i13/2","s":"(622)5/2","N":97,"Q":-1.8,"mu":-0.15},{"g":"1i13/2","s":"(622)5/2","N":99,"Q":-1.87,"mu":-0.15},{"g":"1i13/2","s":"(622)5/2","N":101,"Q":-1.92,"mu":-0.15},{"g":"1i13/2","s":"(622)5/2","N":103,"Q":-1.95,"mu":-0.15},{"g":"1i13/2","s":"(622)5/2","N":105,"Q":-1.96,"mu":-0.15},{"g":"1i13/2","s":"(622)5/2","N":107,"Q":-1.97,"mu":-0.15},{"g":"1i13/2","s":"(622)5/2","N":109,"Q":-1.95,"mu":-0.16},{"g":"1i13/2","s":"(622)5/2","N":111,"Q":-1.9,"mu":-0.18},{"g":"1i13/2","s":"(622)5/2","N":113,"Q":-1.8,"mu":-0.2},{"g":"1i13/2","s":"(622)5/2","N":115,"Q":-1.65,"mu":-0.3},{"g":"1i13/2","s":"(622)5/2","N":117,"Q":-1.45,"mu":-0.4},{"g":"1i13/2","s":"(622)5/2","N":119,"Q":-1.2,"mu":-0.6},{"g":"1i13/2","s":"(622)5/2","N":121,"Q":-0.5,"mu":-1.45},{"g":"1i13/2","s":"(622)5/2","N":123,"Q":-0.1,"mu":-1.65},{"g":"1i13/2","s":"(622)5/2","N":125,"Q":0.0,"mu":-0.8},
{"g":"1i13/2","s":"(631)3/2","N":83,"Q":0.05,"mu":-0.28},{"g":"1i13/2","s":"(631)3/2","N":85,"Q":0.35,"mu":-0.5},{"g":"1i13/2","s":"(631)3/2","N":87,"Q":0.88,"mu":-0.38},{"g":"1i13/2","s":"(631)3/2","N":89,"Q":-0.6,"mu":-0.25},{"g":"1i13/2","s":"(631)3/2","N":91,"Q":-0.82,"mu":-0.1},{"g":"1i13/2","s":"(631)3/2","N":93,"Q":-0.9,"mu":-0.02},{"g":"1i13/2","s":"(631)3/2","N":95,"Q":-0.95,"mu":0.02},{"g":"1i13/2","s":"(631)3/2","N":97,"Q":-1.0,"mu":0.03},{"g":"1i13/2","s":"(631)3/2","N":99,"Q":-1.03,"mu":0.04},{"g":"1i13/2","s":"(631)3/2","N":101,"Q":-1.05,"mu":0.05},{"g":"1i13/2","s":"(631)3/2","N":103,"Q":-1.07,"mu":0.05},{"g":"1i13/2","s":"(631)3/2","N":105,"Q":-1.08,"mu":0.05},{"g":"1i13/2","s":"(631)3/2","N":107,"Q":-1.08,"mu":0.05},{"g":"1i13/2","s":"(631)3/2","N":109,"Q":-1.07,"mu":0.04},{"g":"1i13/2","s":"(631)3/2","N":111,"Q":-1.05,"mu":0.03},{"g":"1i13/2","s":"(631)3/2","N":113,"Q":-1.0,"mu":0.0},{"g":"1i13/2","s":"(631)3/2","N":115,"Q":-0.95,"mu":-0.02},{"g":"1i13/2","s":"(631)3/2","N":117,"Q":-0.88,"mu":-0.05},{"g":"1i13/2","s":"(631)3/2","N":119,"Q":-0.7,"mu":-0.12},{"g":"1i13/2","s":"(631)3/2","N":121,"Q":0.85,"mu":-0.45},{"g":"1i13/2","s":"(631)3/2","N":123,"Q":0.15,"mu":-0.42},{"g":"1i13/2","s":"(631)3/2","N":125,"Q":0.0,"mu":-0.13},
{"g":"1i13/2","s":"(631)1/2","N":83,"Q":0.15,"mu":-1.9},{"g":"1i13/2","s":"(631)1/2","N":85,"Q":0.3,"mu":-1.62},{"g":"1i13/2","s":"(631)1/2","N":87,"Q":-0.3,"mu":-1.6},{"g":"1i13/2","s":"(631)1/2","N":89,"Q":0.65,"mu":-1.55},{"g":"1i13/2","s":"(631)1/2","N":91,"Q":0.8,"mu":-1.52},{"g":"1i13/2","s":"(631)1/2","N":93,"Q":0.9,"mu":-1.5},{"g":"1i13/2","s":"(631)1/2","N":95,"Q":0.95,"mu":-1.47},{"g":"1i13/2","s":"(631)1/2","N":97,"Q":1.02,"mu":-1.45},{"g":"1i13/2","s":"(631)1/2","N":99,"Q":1.05,"mu":-1.43},{"g":"1i13/2","s":"(631)1/2","N":101,"Q":1.07,"mu":-1.42},{"g":"1i13/2","s":"(631)1/2","N":103,"Q":1.08,"mu":-1.4},{"g":"1i13/2","s":"(631)1/2","N":105,"Q":1.1,"mu":-1.4},{"g":"1i13/2","s":"(631)1/2","N":107,"Q":1.1,"mu":-1.38},{"g":"1i13/2","s":"(631)1/2","N":109,"Q":1.08,"mu":-1.38},{"g":"1i13/2","s":"(631)1/2","N":111,"Q":1.03,"mu":-1.4},{"g":"1i13/2","s":"(631)1/2","N":113,"Q":0.98,"mu":-1.4},{"g":"1i13/2","s":"(631)1/2","N":115,"Q":0.93,"mu":-1.42},{"g":"1i13/2","s":"(631)1/2","N":117,"Q":0.85,"mu":-1.45},{"g":"1i13/2","s":"(631)1/2","N":119,"Q":0.7,"mu":-1.45},{"g":"1i13/2","s":"(631)1/2","N":121,"Q":0.55,"mu":-1.5},{"g":"1i13/2","s":"(631)1/2","N":123,"Q":0.3,"mu":-1.75},{"g":"1i13/2","s":"(631)1/2","N":125,"Q":0.2,"mu":-1.8}
]
},
"concat":[
{"width":388.7,"height":315,
 "layer":[
  {"data":{"values":[{"N":89},{"N":97},{"N":105},{"N":113},{"N":121}]},"mark":{"type":"rule","color":"#0000ff","strokeDash":[2,2],"strokeWidth":1.2},
   "encoding":{"x":{"field":"N","type":"quantitative","scale":{"domain":[82,126],"nice":false,"zero":false},"axis":{"orient":"top","values":[83,85,87,89,91,93,95,97,99,101,103,105,107,109,111,113,115,117,119,121,123,125],"labels":false,"title":null,"encode":{"ticks":{"y2":{"condition":{"test":"datum.value % 4 === 1","value":-14},"value":-7}}}}}}},
  {"mark":{"type":"rule","color":"#444","strokeDash":[5,3],"strokeWidth":1.5},"encoding":{"y":{"datum":0,"type":"quantitative","scale":{"domain":[-3.8,2.5],"nice":false,"zero":false},"axis":null}}},
  {"data":{"name":"A"},"mark":{"type":"line","strokeWidth":2},
   "encoding":{"x":{"field":"N","type":"quantitative","axis":null},
    "y":{"field":"Q","type":"quantitative","scale":{"domain":[-3.8,2.5],"nice":false,"zero":false},"axis":{"orient":"left","values":[-3.75,-3.5,-3.25,-3,-2.75,-2.5,-2.25,-2,-1.75,-1.5,-1.25,-1,-0.75,-0.5,-0.25,0,0.25,0.5,0.75,1,1.25,1.5,1.75,2,2.25],"labelExpr":"datum.value % 1 === 0 ? toString(datum.value) : ''","labelPadding":6,"title":"Electric quadrupole Q (b)","titlePadding":6,"encode":{"ticks":{"x2":{"condition":{"test":"datum.value % 1 === 0","value":-14},"value":-7}}}}},
    "color":{"field":"g","type":"nominal","scale":{"domain":["2f7/2","1h9/2"],"range":["#E69F00","#0072B2"]},"legend":null},
    "detail":{"field":"s","type":"nominal"}}},
  {"data":{"name":"A"},"mark":{"type":"point","filled":false,"fill":"white","opacity":1,"size":121,"strokeWidth":1.6},
   "encoding":{"x":{"field":"N","type":"quantitative","axis":null},
    "y":{"field":"Q","type":"quantitative","axis":{"orient":"right","values":[-3.75,-3.5,-3.25,-3,-2.75,-2.5,-2.25,-2,-1.75,-1.5,-1.25,-1,-0.75,-0.5,-0.25,0,0.25,0.5,0.75,1,1.25,1.5,1.75,2,2.25],"labels":false,"title":null,"encode":{"ticks":{"x2":{"condition":{"test":"datum.value % 1 === 0","value":14},"value":7}}}}},
    "color":{"field":"g","type":"nominal","scale":{"domain":["2f7/2","1h9/2"],"range":["#E69F00","#0072B2"]},"legend":null},
    "shape":{"field":"s","type":"nominal","scale":{"domain":["(503)7/2","(512)5/2","(541)3/2","(510)1/2","(505)9/2","(514)7/2","(523)5/2","(532)3/2","(521)1/2"],"range":["M0.95,0L-0.95,0.95L-0.95,-0.95Z","M0,-0.95L0.95,0.95L-0.95,0.95Z","M0,0.95L0.95,-0.95L-0.95,-0.95Z","M1,0A1,1,0,1,1,-1,0A1,1,0,1,1,1,0Z","M-0.95,0L0.95,0.95L0.95,-0.95Z","M0.95,0L-0.95,0.95L-0.95,-0.95Z","M0,-0.95L0.95,0.95L-0.95,0.95Z","M0,0.95L0.95,-0.95L-0.95,-0.95Z","M1,0A1,1,0,1,1,-1,0A1,1,0,1,1,1,0Z"]},"legend":null}}},
  {"data":{"values":[]},"mark":{"type":"point","filled":false,"opacity":1,"strokeWidth":2},
   "encoding":{
    "color":{"field":"lab","type":"nominal","scale":{"domain":["2f₇/₂","(503)7/2","(512)5/2","(541)3/2","(510)1/2","1h₉/₂","(505)9/2","(514)7/2","(523)5/2","(532)3/2","(521)1/2"],"range":["#E69F00","#E69F00","#E69F00","#E69F00","#E69F00","#0072B2","#0072B2","#0072B2","#0072B2","#0072B2","#0072B2"]},"legend":{"title":null,"columns":4,"orient":"none","legendX":-60.7,"legendY":-88.7}},
    "shape":{"field":"lab","type":"nominal","scale":{"domain":["2f₇/₂","(503)7/2","(512)5/2","(541)3/2","(510)1/2","1h₉/₂","(505)9/2","(514)7/2","(523)5/2","(532)3/2","(521)1/2"],"range":["M-1,0H2.44","M-1,0H0.13M1.31,0H2.44M0.13,-0.59V0.59L1.31,0Z","M-1,0H0.425M1.015,0H2.44M0.13,0.59H1.31L0.72,-0.59Z","M-1,0H0.425M1.015,0H2.44M0.13,-0.59H1.31L0.72,0.59Z","M-1,0H0.12M1.32,0H2.44M0.12,0A0.6,0.6,0,1,1,1.32,0A0.6,0.6,0,1,1,0.12,0Z","M-1,0H2.44","M-1,0H0.13M1.31,0H2.44M1.31,-0.59V0.59L0.13,0Z","M-1,0H0.13M1.31,0H2.44M0.13,-0.59V0.59L1.31,0Z","M-1,0H0.425M1.015,0H2.44M0.13,0.59H1.31L0.72,-0.59Z","M-1,0H0.425M1.015,0H2.44M0.13,-0.59H1.31L0.72,0.59Z","M-1,0H0.12M1.32,0H2.44M0.12,0A0.6,0.6,0,1,1,1.32,0A0.6,0.6,0,1,1,0.12,0Z"]},"legend":{"title":null,"columns":4,"orient":"none","legendX":-60.7,"legendY":-88.7}}}},
  {"mark":{"type":"rect","fill":"white","stroke":"#222","strokeWidth":1.2,"cornerRadius":6},"encoding":{"x":{"datum":84.07,"type":"quantitative","axis":null},"x2":{"datum":88.68},"y":{"datum":2.3,"type":"quantitative","axis":null},"y2":{"datum":1.654}}},
  {"mark":{"type":"text","text":"(a)","font":"DejaVu Sans","fontSize":19,"color":"#111"},"encoding":{"x":{"datum":86.38,"type":"quantitative","axis":null},"y":{"datum":1.98,"type":"quantitative","axis":null}}}
 ],
 "resolve":{"scale":{"color":"independent","shape":"independent"},"axis":{"x":"independent","y":"independent"}}},
{"width":388.7,"height":315,
 "layer":[
  {"data":{"values":[{"N":89},{"N":97},{"N":105},{"N":113},{"N":121}]},"mark":{"type":"rule","color":"#0000ff","strokeDash":[2,2],"strokeWidth":1.2},
   "encoding":{"x":{"field":"N","type":"quantitative","scale":{"domain":[82,126],"nice":false,"zero":false},"axis":{"orient":"top","values":[83,85,87,89,91,93,95,97,99,101,103,105,107,109,111,113,115,117,119,121,123,125],"labels":false,"title":null,"encode":{"ticks":{"y2":{"condition":{"test":"datum.value % 4 === 1","value":-14},"value":-7}}}}}}},
  {"mark":{"type":"rule","color":"#444","strokeDash":[5,3],"strokeWidth":1.5},"encoding":{"y":{"datum":0,"type":"quantitative","scale":{"domain":[-3.8,2.5],"nice":false,"zero":false},"axis":null}}},
  {"data":{"name":"B"},"mark":{"type":"line","strokeWidth":2},
   "encoding":{"x":{"field":"N","type":"quantitative","axis":null},
    "y":{"field":"Q","type":"quantitative","scale":{"domain":[-3.8,2.5],"nice":false,"zero":false},"axis":null},
    "color":{"field":"g","type":"nominal","scale":{"domain":["3p3/2","2f5/2","3p1/2"],"range":["#009E73","#F0E442","#56B4E9"]},"legend":null},
    "detail":{"field":"s","type":"nominal"}}},
  {"data":{"name":"B"},"mark":{"type":"point","filled":false,"fill":"white","opacity":1,"size":121,"strokeWidth":1.6},
   "encoding":{"x":{"field":"N","type":"quantitative","axis":null},
    "y":{"field":"Q","type":"quantitative","axis":{"orient":"right","values":[-3.75,-3.5,-3.25,-3,-2.75,-2.5,-2.25,-2,-1.75,-1.5,-1.25,-1,-0.75,-0.5,-0.25,0,0.25,0.5,0.75,1,1.25,1.5,1.75,2,2.25],"labels":false,"title":null,"encode":{"ticks":{"x2":{"condition":{"test":"datum.value % 1 === 0","value":14},"value":7}}}}},
    "color":{"field":"g","type":"nominal","scale":{"domain":["3p3/2","2f5/2","3p1/2"],"range":["#009E73","#F0E442","#56B4E9"]},"legend":null},
    "shape":{"field":"s","type":"nominal","scale":{"domain":["(501)3/2","(501)1/2","(503)5/2","(512)3/2","(550)1/2"],"range":["M0,0.95L0.95,-0.95L-0.95,-0.95Z","M1,0A1,1,0,1,1,-1,0A1,1,0,1,1,1,0Z","M0,-0.95L0.95,0.95L-0.95,0.95Z","M0,0.95L0.95,-0.95L-0.95,-0.95Z","M1,0A1,1,0,1,1,-1,0A1,1,0,1,1,1,0Z"]},"legend":null}}},
  {"data":{"values":[]},"mark":{"type":"point","filled":false,"opacity":1,"strokeWidth":2},
   "encoding":{
    "color":{"field":"lab","type":"nominal","scale":{"domain":["3p₃/₂","(501)3/2","(501)1/2","2f₅/₂","(503)5/2","(512)3/2","(501)1/2 ","3p₁/₂","(550)1/2"],"range":["#009E73","#009E73","#009E73","#F0E442","#F0E442","#F0E442","#F0E442","#56B4E9","#56B4E9"]},"legend":{"title":null,"columns":3,"orient":"none","legendX":22.6,"legendY":-88.7}},
    "shape":{"field":"lab","type":"nominal","scale":{"domain":["3p₃/₂","(501)3/2","(501)1/2","2f₅/₂","(503)5/2","(512)3/2","(501)1/2 ","3p₁/₂","(550)1/2"],"range":["M-1,0H2.44","M-1,0H0.425M1.015,0H2.44M0.13,-0.59H1.31L0.72,0.59Z","M-1,0H0.12M1.32,0H2.44M0.12,0A0.6,0.6,0,1,1,1.32,0A0.6,0.6,0,1,1,0.12,0Z","M-1,0H2.44","M-1,0H0.425M1.015,0H2.44M0.13,0.59H1.31L0.72,-0.59Z","M-1,0H0.425M1.015,0H2.44M0.13,-0.59H1.31L0.72,0.59Z","M-1,0H0.12M1.32,0H2.44M0.12,0A0.6,0.6,0,1,1,1.32,0A0.6,0.6,0,1,1,0.12,0Z","M-1,0H2.44","M-1,0H0.12M1.32,0H2.44M0.12,0A0.6,0.6,0,1,1,1.32,0A0.6,0.6,0,1,1,0.12,0Z"]},"legend":{"title":null,"columns":3,"orient":"none","legendX":22.6,"legendY":-88.7}}}},
  {"mark":{"type":"rect","fill":"white","stroke":"#222","strokeWidth":1.2,"cornerRadius":6},"encoding":{"x":{"datum":84.07,"type":"quantitative","axis":null},"x2":{"datum":88.68},"y":{"datum":2.3,"type":"quantitative","axis":null},"y2":{"datum":1.654}}},
  {"mark":{"type":"text","text":"(b)","font":"DejaVu Sans","fontSize":19,"color":"#111"},"encoding":{"x":{"datum":86.38,"type":"quantitative","axis":null},"y":{"datum":1.98,"type":"quantitative","axis":null}}},
  {"mark":{"type":"text","text":"Gd","font":"DejaVu Sans","fontSize":25,"fontWeight":"bold","align":"left","color":"#000"},"encoding":{"x":{"datum":89.88,"type":"quantitative","axis":null},"y":{"datum":2.03,"type":"quantitative","axis":null}}}
 ],
 "resolve":{"scale":{"color":"independent","shape":"independent"},"axis":{"x":"independent","y":"independent"}}},
{"width":388.7,"height":315,
 "layer":[
  {"data":{"values":[{"N":89},{"N":97},{"N":105},{"N":113},{"N":121}]},"mark":{"type":"rule","color":"#0000ff","strokeDash":[2,2],"strokeWidth":1.2},
   "encoding":{"x":{"field":"N","type":"quantitative","scale":{"domain":[82,126],"nice":false,"zero":false},"axis":{"orient":"top","values":[83,85,87,89,91,93,95,97,99,101,103,105,107,109,111,113,115,117,119,121,123,125],"labels":false,"title":null,"encode":{"ticks":{"y2":{"condition":{"test":"datum.value % 4 === 1","value":-14},"value":-7}}}}}}},
  {"mark":{"type":"rule","color":"#444","strokeDash":[5,3],"strokeWidth":1.5},"encoding":{"y":{"datum":0,"type":"quantitative","scale":{"domain":[-3.8,2.5],"nice":false,"zero":false},"axis":null}}},
  {"data":{"name":"C"},"mark":{"type":"line","strokeWidth":2},
   "encoding":{"x":{"field":"N","type":"quantitative","axis":null},
    "y":{"field":"Q","type":"quantitative","scale":{"domain":[-3.8,2.5],"nice":false,"zero":false},"axis":null},
    "color":{"field":"g","type":"nominal","scale":{"domain":["1i13/2"],"range":["#D55E00"]},"legend":null},
    "detail":{"field":"s","type":"nominal"}}},
  {"data":{"name":"C"},"mark":{"type":"point","filled":false,"fill":"white","opacity":1,"size":121,"strokeWidth":1.6},
   "encoding":{"x":{"field":"N","type":"quantitative","axis":null},
    "y":{"field":"Q","type":"quantitative","axis":{"orient":"right","values":[-3.75,-3.5,-3.25,-3,-2.75,-2.5,-2.25,-2,-1.75,-1.5,-1.25,-1,-0.75,-0.5,-0.25,0,0.25,0.5,0.75,1,1.25,1.5,1.75,2,2.25],"labels":false,"title":null,"encode":{"ticks":{"x2":{"condition":{"test":"datum.value % 1 === 0","value":14},"value":7}}}}},
    "color":{"field":"g","type":"nominal","scale":{"domain":["1i13/2"],"range":["#D55E00"]},"legend":null},
    "shape":{"field":"s","type":"nominal","scale":{"domain":["(606)13/2","(615)11/2","(624)9/2","(633)7/2","(622)5/2","(631)3/2","(631)1/2"],"range":["M-0.76,-0.76L0.76,-0.76L0.76,0.76L-0.76,0.76Z","M0,-1.1L1.1,0L0,1.1L-1.1,0Z","M-0.95,0L0.95,0.95L0.95,-0.95Z","M0.95,0L-0.95,0.95L-0.95,-0.95Z","M0,-0.95L0.95,0.95L-0.95,0.95Z","M0,0.95L0.95,-0.95L-0.95,-0.95Z","M1,0A1,1,0,1,1,-1,0A1,1,0,1,1,1,0Z"]},"legend":null}}},
  {"data":{"values":[]},"mark":{"type":"point","filled":false,"opacity":1,"strokeWidth":2},
   "encoding":{
    "color":{"field":"lab","type":"nominal","scale":{"domain":["1i₁₃/₂","(606)13/2","(615)11/2","(624)9/2","(633)7/2","(622)5/2","(631)3/2","(631)1/2"],"range":["#D55E00","#D55E00","#D55E00","#D55E00","#D55E00","#D55E00","#D55E00","#D55E00"]},"legend":{"title":null,"columns":3,"orient":"none","legendX":17.9,"legendY":-88.7}},
    "shape":{"field":"lab","type":"nominal","scale":{"domain":["1i₁₃/₂","(606)13/2","(615)11/2","(624)9/2","(633)7/2","(622)5/2","(631)3/2","(631)1/2"],"range":["M-1,0H2.44","M-1,0H0.25M1.19,0H2.44M0.25,-0.47H1.19V0.47H0.25Z","M-1,0H0.07M1.37,0H2.44M0.07,0L0.72,-0.65L1.37,0L0.72,0.65Z","M-1,0H0.13M1.31,0H2.44M1.31,-0.59V0.59L0.13,0Z","M-1,0H0.13M1.31,0H2.44M0.13,-0.59V0.59L1.31,0Z","M-1,0H0.425M1.015,0H2.44M0.13,0.59H1.31L0.72,-0.59Z","M-1,0H0.425M1.015,0H2.44M0.13,-0.59H1.31L0.72,0.59Z","M-1,0H0.12M1.32,0H2.44M0.12,0A0.6,0.6,0,1,1,1.32,0A0.6,0.6,0,1,1,0.12,0Z"]},"legend":{"title":null,"columns":3,"orient":"none","legendX":17.9,"legendY":-88.7}}}},
  {"mark":{"type":"rect","fill":"white","stroke":"#222","strokeWidth":1.2,"cornerRadius":6},"encoding":{"x":{"datum":84.07,"type":"quantitative","axis":null},"x2":{"datum":88.68},"y":{"datum":2.3,"type":"quantitative","axis":null},"y2":{"datum":1.654}}},
  {"mark":{"type":"text","text":"(c)","font":"DejaVu Sans","fontSize":19,"color":"#111"},"encoding":{"x":{"datum":86.38,"type":"quantitative","axis":null},"y":{"datum":1.98,"type":"quantitative","axis":null}}}
 ],
 "resolve":{"scale":{"color":"independent","shape":"independent"},"axis":{"x":"independent","y":"independent"}}},
{"width":388.7,"height":315,
 "layer":[
  {"data":{"values":[{"N":89},{"N":97},{"N":105},{"N":113},{"N":121}]},"mark":{"type":"rule","color":"#0000ff","strokeDash":[2,2],"strokeWidth":1.2},
   "encoding":{"x":{"field":"N","type":"quantitative","scale":{"domain":[82,126],"nice":false,"zero":false},"axis":{"orient":"top","values":[83,85,87,89,91,93,95,97,99,101,103,105,107,109,111,113,115,117,119,121,123,125],"labels":false,"title":null,"encode":{"ticks":{"y2":{"condition":{"test":"datum.value % 4 === 1","value":-14},"value":-7}}}}}}},
  {"mark":{"type":"rule","color":"#444","strokeDash":[5,3],"strokeWidth":1.5},"encoding":{"y":{"datum":0,"type":"quantitative","scale":{"domain":[-2.4,1.9],"nice":false,"zero":false},"axis":null}}},
  {"data":{"name":"A"},"mark":{"type":"line","strokeWidth":2},
   "encoding":{"x":{"field":"N","type":"quantitative","axis":{"orient":"bottom","values":[83,85,87,89,91,93,95,97,99,101,103,105,107,109,111,113,115,117,119,121,123,125],"labelExpr":"datum.value % 4 === 1 ? datum.label : ''","title":"Neutron number N","titlePadding":4,"encode":{"ticks":{"y2":{"condition":{"test":"datum.value % 4 === 1","value":14},"value":7}}}}},
    "y":{"field":"mu","type":"quantitative","scale":{"domain":[-2.4,1.9],"nice":false,"zero":false},"axis":{"orient":"left","values":[-2.25,-2,-1.75,-1.5,-1.25,-1,-0.75,-0.5,-0.25,0,0.25,0.5,0.75,1,1.25,1.5,1.75],"labelExpr":"datum.value % 1 === 0 ? toString(datum.value) : ''","labelPadding":6,"title":"Magnetic dipole μ (μₙ)","titlePadding":6,"encode":{"ticks":{"x2":{"condition":{"test":"datum.value % 1 === 0","value":-14},"value":-7}}}}},
    "color":{"field":"g","type":"nominal","scale":{"domain":["2f7/2","1h9/2"],"range":["#E69F00","#0072B2"]},"legend":null},
    "detail":{"field":"s","type":"nominal"}}},
  {"data":{"name":"A"},"mark":{"type":"point","filled":false,"fill":"white","opacity":1,"size":121,"strokeWidth":1.6},
   "encoding":{"x":{"field":"N","type":"quantitative","axis":null},
    "y":{"field":"mu","type":"quantitative","axis":{"orient":"right","values":[-2.25,-2,-1.75,-1.5,-1.25,-1,-0.75,-0.5,-0.25,0,0.25,0.5,0.75,1,1.25,1.5,1.75],"labels":false,"title":null,"encode":{"ticks":{"x2":{"condition":{"test":"datum.value % 1 === 0","value":14},"value":7}}}}},
    "color":{"field":"g","type":"nominal","scale":{"domain":["2f7/2","1h9/2"],"range":["#E69F00","#0072B2"]},"legend":null},
    "shape":{"field":"s","type":"nominal","scale":{"domain":["(503)7/2","(512)5/2","(541)3/2","(510)1/2","(505)9/2","(514)7/2","(523)5/2","(532)3/2","(521)1/2"],"range":["M0.95,0L-0.95,0.95L-0.95,-0.95Z","M0,-0.95L0.95,0.95L-0.95,0.95Z","M0,0.95L0.95,-0.95L-0.95,-0.95Z","M1,0A1,1,0,1,1,-1,0A1,1,0,1,1,1,0Z","M-0.95,0L0.95,0.95L0.95,-0.95Z","M0.95,0L-0.95,0.95L-0.95,-0.95Z","M0,-0.95L0.95,0.95L-0.95,0.95Z","M0,0.95L0.95,-0.95L-0.95,-0.95Z","M1,0A1,1,0,1,1,-1,0A1,1,0,1,1,1,0Z"]},"legend":null}}},
  {"mark":{"type":"rect","fill":"white","stroke":"#222","strokeWidth":1.2,"cornerRadius":6},"encoding":{"x":{"datum":84.07,"type":"quantitative","axis":null},"x2":{"datum":88.68},"y":{"datum":1.766,"type":"quantitative","axis":null},"y2":{"datum":1.325}}},
  {"mark":{"type":"text","text":"(d)","font":"DejaVu Sans","fontSize":19,"color":"#111"},"encoding":{"x":{"datum":86.38,"type":"quantitative","axis":null},"y":{"datum":1.545,"type":"quantitative","axis":null}}}
 ],
 "resolve":{"scale":{"color":"independent","shape":"independent"},"axis":{"x":"independent","y":"independent"}}},
{"width":388.7,"height":315,
 "layer":[
  {"data":{"values":[{"N":89},{"N":97},{"N":105},{"N":113},{"N":121}]},"mark":{"type":"rule","color":"#0000ff","strokeDash":[2,2],"strokeWidth":1.2},
   "encoding":{"x":{"field":"N","type":"quantitative","scale":{"domain":[82,126],"nice":false,"zero":false},"axis":{"orient":"top","values":[83,85,87,89,91,93,95,97,99,101,103,105,107,109,111,113,115,117,119,121,123,125],"labels":false,"title":null,"encode":{"ticks":{"y2":{"condition":{"test":"datum.value % 4 === 1","value":-14},"value":-7}}}}}}},
  {"mark":{"type":"rule","color":"#444","strokeDash":[5,3],"strokeWidth":1.5},"encoding":{"y":{"datum":0,"type":"quantitative","scale":{"domain":[-2.4,1.9],"nice":false,"zero":false},"axis":null}}},
  {"data":{"name":"B"},"mark":{"type":"line","strokeWidth":2},
   "encoding":{"x":{"field":"N","type":"quantitative","axis":{"orient":"bottom","values":[83,85,87,89,91,93,95,97,99,101,103,105,107,109,111,113,115,117,119,121,123,125],"labelExpr":"datum.value % 4 === 1 ? datum.label : ''","title":"Neutron number N","titlePadding":4,"encode":{"ticks":{"y2":{"condition":{"test":"datum.value % 4 === 1","value":14},"value":7}}}}},
    "y":{"field":"mu","type":"quantitative","scale":{"domain":[-2.4,1.9],"nice":false,"zero":false},"axis":null},
    "color":{"field":"g","type":"nominal","scale":{"domain":["3p3/2","2f5/2","3p1/2"],"range":["#009E73","#F0E442","#56B4E9"]},"legend":null},
    "detail":{"field":"s","type":"nominal"}}},
  {"data":{"name":"B"},"mark":{"type":"point","filled":false,"fill":"white","opacity":1,"size":121,"strokeWidth":1.6},
   "encoding":{"x":{"field":"N","type":"quantitative","axis":null},
    "y":{"field":"mu","type":"quantitative","axis":{"orient":"right","values":[-2.25,-2,-1.75,-1.5,-1.25,-1,-0.75,-0.5,-0.25,0,0.25,0.5,0.75,1,1.25,1.5,1.75],"labels":false,"title":null,"encode":{"ticks":{"x2":{"condition":{"test":"datum.value % 1 === 0","value":14},"value":7}}}}},
    "color":{"field":"g","type":"nominal","scale":{"domain":["3p3/2","2f5/2","3p1/2"],"range":["#009E73","#F0E442","#56B4E9"]},"legend":null},
    "shape":{"field":"s","type":"nominal","scale":{"domain":["(501)3/2","(501)1/2","(503)5/2","(512)3/2","(550)1/2"],"range":["M0,0.95L0.95,-0.95L-0.95,-0.95Z","M1,0A1,1,0,1,1,-1,0A1,1,0,1,1,1,0Z","M0,-0.95L0.95,0.95L-0.95,0.95Z","M0,0.95L0.95,-0.95L-0.95,-0.95Z","M1,0A1,1,0,1,1,-1,0A1,1,0,1,1,1,0Z"]},"legend":null}}},
  {"mark":{"type":"rect","fill":"white","stroke":"#222","strokeWidth":1.2,"cornerRadius":6},"encoding":{"x":{"datum":84.07,"type":"quantitative","axis":null},"x2":{"datum":88.68},"y":{"datum":1.766,"type":"quantitative","axis":null},"y2":{"datum":1.325}}},
  {"mark":{"type":"text","text":"(e)","font":"DejaVu Sans","fontSize":19,"color":"#111"},"encoding":{"x":{"datum":86.38,"type":"quantitative","axis":null},"y":{"datum":1.545,"type":"quantitative","axis":null}}},
  {"mark":{"type":"text","text":"Gd","font":"DejaVu Sans","fontSize":25,"fontWeight":"bold","align":"left","color":"#000"},"encoding":{"x":{"datum":89.88,"type":"quantitative","axis":null},"y":{"datum":1.585,"type":"quantitative","axis":null}}},
  {"mark":{"type":"rect","fill":"white","stroke":"#222","strokeWidth":1.2,"cornerRadius":6},"encoding":{"x":{"datum":96.56,"type":"quantitative","axis":null},"x2":{"datum":111.48},"y":{"datum":2.1,"type":"quantitative","axis":null},"y2":{"datum":1.653}}},
  {"mark":{"type":"text","text":"Oblate tags","font":"DejaVu Sans","fontSize":19,"color":"#111"},"encoding":{"x":{"datum":104.02,"type":"quantitative","axis":null},"y":{"datum":1.876,"type":"quantitative","axis":null}}}
 ],
 "resolve":{"scale":{"color":"independent","shape":"independent"},"axis":{"x":"independent","y":"independent"}}},
{"width":388.7,"height":315,
 "layer":[
  {"data":{"values":[{"N":89},{"N":97},{"N":105},{"N":113},{"N":121}]},"mark":{"type":"rule","color":"#0000ff","strokeDash":[2,2],"strokeWidth":1.2},
   "encoding":{"x":{"field":"N","type":"quantitative","scale":{"domain":[82,126],"nice":false,"zero":false},"axis":{"orient":"top","values":[83,85,87,89,91,93,95,97,99,101,103,105,107,109,111,113,115,117,119,121,123,125],"labels":false,"title":null,"encode":{"ticks":{"y2":{"condition":{"test":"datum.value % 4 === 1","value":-14},"value":-7}}}}}}},
  {"mark":{"type":"rule","color":"#444","strokeDash":[5,3],"strokeWidth":1.5},"encoding":{"y":{"datum":0,"type":"quantitative","scale":{"domain":[-2.4,1.9],"nice":false,"zero":false},"axis":null}}},
  {"data":{"name":"C"},"mark":{"type":"line","strokeWidth":2},
   "encoding":{"x":{"field":"N","type":"quantitative","axis":{"orient":"bottom","values":[83,85,87,89,91,93,95,97,99,101,103,105,107,109,111,113,115,117,119,121,123,125],"labelExpr":"datum.value % 4 === 1 ? datum.label : ''","title":"Neutron number N","titlePadding":4,"encode":{"ticks":{"y2":{"condition":{"test":"datum.value % 4 === 1","value":14},"value":7}}}}},
    "y":{"field":"mu","type":"quantitative","scale":{"domain":[-2.4,1.9],"nice":false,"zero":false},"axis":null},
    "color":{"field":"g","type":"nominal","scale":{"domain":["1i13/2"],"range":["#D55E00"]},"legend":null},
    "detail":{"field":"s","type":"nominal"}}},
  {"data":{"name":"C"},"mark":{"type":"point","filled":false,"fill":"white","opacity":1,"size":121,"strokeWidth":1.6},
   "encoding":{"x":{"field":"N","type":"quantitative","axis":null},
    "y":{"field":"mu","type":"quantitative","axis":{"orient":"right","values":[-2.25,-2,-1.75,-1.5,-1.25,-1,-0.75,-0.5,-0.25,0,0.25,0.5,0.75,1,1.25,1.5,1.75],"labels":false,"title":null,"encode":{"ticks":{"x2":{"condition":{"test":"datum.value % 1 === 0","value":14},"value":7}}}}},
    "color":{"field":"g","type":"nominal","scale":{"domain":["1i13/2"],"range":["#D55E00"]},"legend":null},
    "shape":{"field":"s","type":"nominal","scale":{"domain":["(606)13/2","(615)11/2","(624)9/2","(633)7/2","(622)5/2","(631)3/2","(631)1/2"],"range":["M-0.76,-0.76L0.76,-0.76L0.76,0.76L-0.76,0.76Z","M0,-1.1L1.1,0L0,1.1L-1.1,0Z","M-0.95,0L0.95,0.95L0.95,-0.95Z","M0.95,0L-0.95,0.95L-0.95,-0.95Z","M0,-0.95L0.95,0.95L-0.95,0.95Z","M0,0.95L0.95,-0.95L-0.95,-0.95Z","M1,0A1,1,0,1,1,-1,0A1,1,0,1,1,1,0Z"]},"legend":null}}},
  {"mark":{"type":"rect","fill":"white","stroke":"#222","strokeWidth":1.2,"cornerRadius":6},"encoding":{"x":{"datum":84.07,"type":"quantitative","axis":null},"x2":{"datum":88.68},"y":{"datum":1.766,"type":"quantitative","axis":null},"y2":{"datum":1.325}}},
  {"mark":{"type":"text","text":"(f)","font":"DejaVu Sans","fontSize":19,"color":"#111"},"encoding":{"x":{"datum":86.38,"type":"quantitative","axis":null},"y":{"datum":1.545,"type":"quantitative","axis":null}}}
 ],
 "resolve":{"scale":{"color":"independent","shape":"independent"},"axis":{"x":"independent","y":"independent"}}}
],
"columns":3,
"spacing":0,
"bounds":"flush",
"resolve":{"scale":{"x":"independent","y":"independent","color":"independent","shape":"independent"},"axis":{"x":"independent","y":"independent"},"legend":{"color":"independent","shape":"independent"}}
}
